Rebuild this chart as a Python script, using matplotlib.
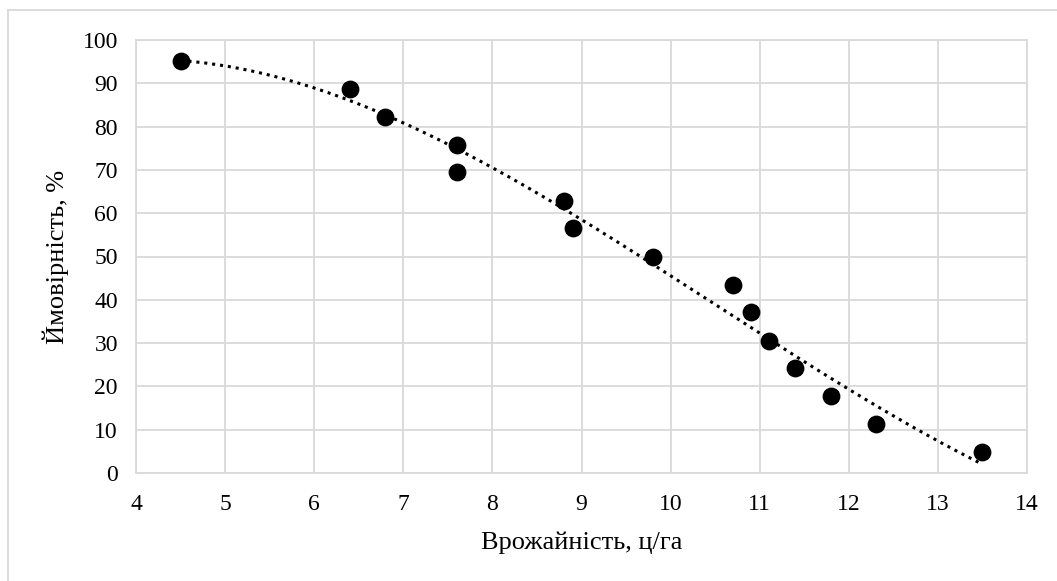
import numpy as np
import matplotlib.pyplot as plt
from matplotlib.lines import Line2D

# yield (c/ha) vs probability (%)
yield_x = [4.5, 6.4, 6.8, 7.6, 7.6, 8.8, 8.9, 9.8, 10.7, 10.9, 11.1, 11.4, 11.8, 12.3, 13.5]
prob_y = [95.2, 88.7, 82.3, 75.8, 69.4, 62.9, 56.5, 50.0, 43.5, 37.1, 30.6, 24.2, 17.7, 11.3, 4.8]

plt.rcParams['font.family'] = ['Liberation Serif', 'DejaVu Serif']

fig = plt.figure(figsize=(10.57, 5.81), dpi=100)
ax = fig.add_axes([136/1057, 1-473/581, (1027-136)/1057, (473-40)/581])

# polynomial trendline (order 3, like excel)
coef = np.polyfit(yield_x, prob_y, 3)
xs = np.linspace(min(yield_x), max(yield_x), 200)
ax.plot(xs, np.polyval(coef, xs), color='black', lw=2.2, ls=(0, (1, 1.6)), zorder=2)

ax.scatter(yield_x, prob_y, s=140, color='black', zorder=3)

ax.set_xlim(4, 14)
ax.set_ylim(0, 100)
ax.set_xticks(range(4, 15))
ax.set_yticks(range(0, 101, 10))
ax.grid(True, color='#d9d9d9', lw=1.3, zorder=0)
ax.set_axisbelow(True)
for s in ax.spines.values():
    s.set_color('#d9d9d9')
    s.set_linewidth(1.3)
ax.tick_params(axis='x', length=0, labelsize=17, pad=15)
ax.tick_params(axis='y', length=0, labelsize=17, pad=13)

ax.set_xlabel('Врожайність, ц/га', fontsize=19, labelpad=12)
ax.set_ylabel('Ймовірність, %', fontsize=19, labelpad=10)

# outer chart frame (top and left edges visible)
fig.add_artist(Line2D([8/1057, 8/1057], [0, 1-10/581], color='#d9d9d9', lw=1.3))
fig.add_artist(Line2D([8/1057, 1], [1-10/581, 1-10/581], color='#d9d9d9', lw=1.3))

fig.savefig('out.png', dpi=100)
